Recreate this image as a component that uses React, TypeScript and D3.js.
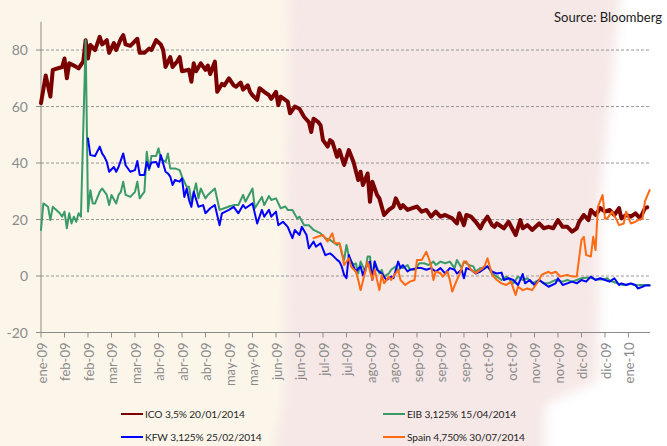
import React from "react";
import * as d3 from "d3";

// x: business-day index since 2 Jan 2009; tick label every 10 days
const tickLabels = [
  "ene-09", "feb-09", "feb-09", "mar-09", "mar-09", "abr-09", "abr-09", "abr-09",
  "may-09", "may-09", "jun-09", "jun-09", "jul-09", "jul-09", "ago-09", "ago-09",
  "sep-09", "sep-09", "sep-09", "oct-09", "oct-09", "nov-09", "nov-09", "dic-09",
  "dic-09", "ene-10",
];
const yTicks = [-20, 0, 20, 40, 60, 80];

const ico: [number, number][] = [
  [0, 61.2], [2, 71], [4, 63.5], [5, 73], [9, 74], [10, 77], [11, 70], [12, 75.3], [14, 74.5], [16, 73.5],
  [18, 76], [19, 83.5], [20, 77], [21, 81.8], [23, 80], [25, 84.7], [26, 82], [28, 83.5], [29, 79], [31, 82.5],
  [32, 80], [34, 84], [35, 85.3], [36, 82], [38, 81.5], [41, 84], [42, 79], [44, 79], [46, 80.5], [47, 80],
  [49, 83.5], [51, 82], [52, 80], [53, 74], [55, 77.5], [56, 74], [58, 76], [59, 77.5], [60, 72.5], [63, 73],
  [64, 68.8], [65, 75.3], [66, 72.5], [68, 75.3], [70, 73], [71, 74.5], [72, 71.5], [74, 75.9], [75, 65.2], [77, 68],
  [78, 67.5], [80, 70], [82, 67.5], [83, 67], [85, 68.5], [86, 66], [88, 67.5], [89, 65.2], [90, 64], [92, 62.4],
  [93, 66.5], [95, 65.2], [97, 64], [98, 62.7], [100, 65.2], [101, 60.5], [102, 63.5], [105, 61.7], [106, 57.6], [108, 60],
  [110, 59.2], [112, 56.3], [114, 54.5], [115, 51], [116, 55.7], [118, 54.5], [119, 53.3], [120, 48.1], [122, 45.8], [123, 48.1],
  [124, 47.5], [126, 42.2], [127, 44.6], [129, 39.3], [131, 44.6], [133, 40.4], [135, 34], [136, 36.9], [137, 32.2], [139, 36.3],
  [140, 26.3], [141, 33.4], [143, 28.7], [144, 27.5], [146, 21.6], [148, 23.4], [150, 24.6], [151, 27.5], [153, 24], [154, 25.1],
  [156, 23.4], [158, 24], [160, 24.6], [162, 22.8], [164, 23.4], [166, 21], [168, 22.8], [170, 21], [172, 21.6], [175, 20.4],
  [177, 18.6], [178, 22.2], [180, 18], [181, 21.6], [183, 21], [185, 19.2], [187, 16.9], [188, 18.6], [190, 21], [192, 18],
  [193, 17.4], [194, 18.6], [197, 16.9], [199, 19.2], [202, 14.5], [204, 19.8], [205, 16.9], [207, 18], [209, 16.3], [212, 18.6],
  [214, 16.9], [216, 17.4], [218, 16.9], [220, 19.8], [222, 17.4], [224, 17.4], [226, 15.7], [228, 16.9], [229, 19.2], [231, 21.6],
  [233, 19.8], [234, 23.4], [236, 21.6], [238, 24], [240, 22.8], [242, 23.4], [244, 21.6], [246, 24], [247, 20.4], [249, 21.6],
  [251, 21], [253, 22.2], [255, 20.4], [257, 24], [258, 24.3],
];

const eib: [number, number][] = [
  [0, 16.3], [1, 25.7], [3, 24.5], [4, 19.8], [5, 24.5], [8, 22.2], [9, 21], [10, 22.8], [11, 16.9], [12, 22.2],
  [13, 18.6], [14, 21], [15, 19.2], [16, 22.2], [17, 21], [19, 83.5], [20, 22.8], [21, 30.4], [22, 25.7], [23, 25.7],
  [25, 29.8], [26, 31], [28, 28.7], [29, 25.1], [30, 28.7], [32, 25.7], [33, 28.7], [34, 29.8], [35, 33.4], [36, 28.7],
  [38, 28], [40, 29.8], [41, 33.4], [42, 27.5], [43, 28.7], [44, 29.8], [45, 44], [46, 37.5], [47, 42.5], [49, 42.5],
  [50, 45.2], [51, 41.5], [53, 40.4], [54, 43.4], [55, 38.1], [57, 38.1], [59, 37.5], [60, 35.2], [62, 31.6], [63, 31.6],
  [64, 26.3], [66, 32.8], [67, 27.5], [68, 31], [70, 27.5], [71, 28.7], [74, 31], [76, 23.4], [78, 24], [80, 24.6],
  [82, 25.1], [84, 25.1], [86, 28.7], [87, 26.3], [90, 31], [91, 24], [94, 28], [95, 25.1], [97, 28.3], [98, 26.9],
  [100, 27.5], [102, 24], [104, 24.6], [105, 23.4], [107, 23.4], [109, 20.4], [110, 21], [112, 18], [114, 18], [116, 16.3],
  [119, 15.1], [121, 13.4], [123, 12.8], [126, 11], [127, 11.6], [128, 8], [129, 5.7], [130, 11], [131, 6.9], [133, 3.9],
  [134, 4.5], [135, 0.9], [136, 5.1], [138, 1.6], [139, 6.9], [140, 6.9], [141, -0.8], [142, 5.1], [144, 0.9], [145, 2.2],
  [146, -0.2], [148, 0.9], [149, 2.2], [151, 3.4], [152, 1.6], [153, 3.4], [154, 2.8], [156, 3.9], [157, 2.2], [159, 2.2],
  [161, 4.5], [163, 4.5], [165, 3.9], [167, 5.1], [168, 3.9], [170, 5.1], [172, 4.5], [174, 5.1], [176, 2.8], [177, 5.7],
  [179, 2.8], [180, 5.1], [182, 3.9], [184, 3.4], [185, 1.6], [187, 2.8], [190, 3.4], [192, 0.9], [194, -0.2], [196, -1.4],
  [198, -0.2], [201, -2.6], [203, -0.2], [205, -1.4], [207, -0.8], [209, -2.6], [212, -1.4], [214, -2.6], [216, -2.6], [219, -1.4],
  [222, -2], [224, -1.4], [226, -2], [228, -1.4], [230, -0.8], [232, -0.6], [234, -0.6], [236, -1.2], [239, -1.2], [241, -0.8],
  [242, -1.6], [244, -2.2], [246, -2.8], [248, -3.2], [251, -2.8], [253, -3.4], [255, -3.2], [257, -3.2], [259, -3.2],
];

const kfw: [number, number][] = [
  [20, 48.7], [21, 42.8], [23, 42.5], [25, 45.8], [26, 43.4], [27, 42.2], [28, 40.4], [29, 36.9], [31, 38.6], [32, 36.9],
  [33, 38.6], [35, 43.4], [36, 39.2], [38, 36.9], [40, 37.5], [41, 40.7], [42, 35.8], [44, 35.8], [45, 40.4], [46, 38],
  [47, 40.2], [49, 40.4], [50, 38.6], [51, 42.8], [53, 36.9], [54, 36.3], [55, 35.2], [56, 32.2], [57, 34], [59, 33.4],
  [60, 34.6], [61, 28], [62, 31], [63, 26.9], [64, 24.5], [65, 29.8], [67, 24.5], [69, 25.1], [70, 22.2], [72, 24],
  [74, 25.1], [76, 18], [77, 22.2], [80, 23.4], [82, 24.5], [84, 22.2], [86, 25.1], [87, 24], [90, 25.7], [92, 18.6],
  [94, 23.4], [95, 21], [97, 23.4], [98, 21], [100, 22.8], [101, 18], [103, 19.2], [105, 17.4], [107, 13.4], [108, 16.3],
  [110, 14.5], [111, 17.4], [113, 14.5], [114, 9.8], [116, 12.2], [117, 10.4], [119, 11.6], [121, 7.4], [123, 8], [124, 7.4],
  [126, 5.7], [127, 5.1], [128, 3.3], [129, 0.4], [130, -0.8], [131, 7.4], [132, 5.1], [134, 1.6], [136, 3.4], [137, 0.3],
  [139, 4.5], [140, 5.1], [141, -1.4], [142, 5.1], [143, 2.2], [145, 0.9], [147, -1.4], [149, -0.2], [150, -0.8], [152, 5.1],
  [153, 2.8], [154, 3.9], [156, 1.6], [157, 2.2], [160, 2.8], [162, 2.8], [164, 2.2], [166, 2.8], [168, 1.6], [170, 2.8],
  [172, 0.9], [174, 2.8], [176, 2.2], [177, 0.9], [179, 2.2], [180, -0.8], [181, 2.8], [183, 2.2], [185, 0.9], [187, 1.6],
  [190, 3.4], [192, 1.5], [194, 0.9], [196, 1.2], [197, -1.4], [199, -0.8], [201, -1.4], [203, -3.2], [205, 0.7], [206, -2.6],
  [208, -1.4], [210, -3.2], [212, -1.4], [214, -2.6], [216, -3.8], [219, -2.6], [220, -0.8], [222, -3.2], [224, -2.6], [226, -2],
  [228, -2.6], [230, -1.4], [232, -2], [234, -0.2], [236, -1.4], [238, -0.8], [240, -1.4], [242, -2], [244, -0.8], [246, -3.2],
  [247, -2.6], [249, -3.2], [251, -2.6], [253, -3.2], [254, -4.4], [256, -3.8], [257, -3.4], [259, -3.4],
];

const spain: [number, number][] = [
  [116, 13.4], [118, 14], [120, 14.5], [122, 12.2], [124, 15.1], [125, 11.6], [127, 11.6], [128, 8.6], [129, 3.9], [131, 6.3],
  [132, 3.3], [134, 1.6], [135, -1.4], [136, -5], [138, 1.6], [139, 5.1], [141, -1.4], [142, 2.2], [144, -5], [145, 0.4],
  [146, -2.6], [148, -0.2], [149, -1.4], [151, 1], [152, 2.2], [153, -1.4], [155, -3.2], [157, -2], [159, -1.4], [160, 5.7],
  [162, 5.7], [164, 8.6], [166, 3.9], [167, -1.4], [168, 1.6], [170, 1], [171, -0.2], [173, 1.6], [174, -1.4], [175, -5.5],
  [177, -1.4], [178, 0.4], [180, 5.1], [181, 5.1], [183, 2.2], [185, 1], [188, 2.8], [189, 3.9], [190, 6.3], [192, 0.4],
  [194, -1.4], [196, -2.6], [198, -3.2], [200, -2], [202, -6.7], [203, -3.8], [205, -5], [207, -4.4], [209, -5], [210, -3.8],
  [212, -1.4], [213, 0.4], [216, 1.5], [217, 0.9], [219, 1.5], [221, -0.2], [224, 0.4], [226, -0.2], [228, -0.2], [230, 12.7],
  [231, 13.9], [232, 7.4], [234, 6.9], [235, 13.9], [236, 9.2], [237, 24.5], [239, 28.7], [240, 20.4], [241, 20.4], [243, 22.8],
  [245, 19.8], [246, 18], [248, 18.6], [249, 22.8], [251, 18.6], [253, 19.2], [254, 19.8], [256, 20.4], [257, 26.3], [259, 30.4],
];

const seriesNames = ["ICO 3,5% 20/01/2014", "EIB 3,125% 15/04/2014", "KFW 3,125% 25/02/2014", "Spain 4,750% 30/07/2014"];
const seriesColors = ["#7a0000", "#3a9a68", "#0000ff", "#ff6a13"];
const seriesWidths = [4, 2, 2, 2];
const seriesData = [ico, eib, kfw, spain];

const W = 667;
const H = 446;
const FONT = "Lato, 'Open Sans', sans-serif";

export default function App() {
  const x = d3.scaleLinear().domain([0, 259]).range([41, 649.6]);
  const y = d3.scaleLinear().domain([-20, 90]).range([332.5, 21.8]);
  const line = d3
    .line<[number, number]>()
    .x((d) => x(d[0]))
    .y((d) => y(d[1]))
    .curve(d3.curveLinear);

  const tickIdx = tickLabels.map((_, i) => i * 10);
  const legendPos = [
    [121, 414],
    [383, 414],
    [121, 437],
    [383, 437],
  ];

  return (
    <div>
      <style>{`body{margin:0}`}</style>
      <svg width={W} height={H} style={{ display: "block" }}>
        <defs>
          <filter id="blur" x="-20%" y="-20%" width="140%" height="140%">
            <feGaussianBlur stdDeviation="6" />
          </filter>
        </defs>
        <rect x={0} y={0} width={W} height={H} fill="#ffffff" />
        <rect x={0} y={0} width={330} height={H} fill="#fcf6ea" />
        <path
          d="M290,-20 L622,-20 L600,200 L598,380 L545,405 L545,470 L270,470 L284,400 Z"
          fill="#f5e8e6"
          filter="url(#blur)"
        />

        {/* gridlines */}
        {yTicks.map((t) =>
          t === -20 ? null : (
            <line
              key={"g" + t}
              x1={x(0)}
              x2={650}
              y1={y(t)}
              y2={y(t)}
              stroke="#8c8c8c"
              strokeWidth={0.9}
              strokeDasharray="3,2"
            />
          )
        )}
        {/* y axis */}
        <line x1={41} x2={41} y1={y(90)} y2={y(-20)} stroke="#8c8c8c" strokeWidth={1} />
        {yTicks.map((t) => (
          <g key={"y" + t}>
            <line x1={36} x2={41} y1={y(t)} y2={y(t)} stroke="#8c8c8c" strokeWidth={1} />
            <text
              x={28}
              y={y(t)}
              dy="0.36em"
              textAnchor="end"
              fontFamily={FONT}
              fontSize={14}
              fill="#8a8a8a"
            >
              {t}
            </text>
          </g>
        ))}
        {/* x axis */}
        <line x1={41} x2={650} y1={y(-20)} y2={y(-20)} stroke="#8c8c8c" strokeWidth={1} />
        {tickIdx.map((d, i) => (
          <g key={"x" + i}>
            <line x1={x(d)} x2={x(d)} y1={y(-20)} y2={y(-20) + 5} stroke="#8c8c8c" strokeWidth={1} />
            <text
              transform={`translate(${x(d) + 1},${y(-20) + 10}) rotate(-90)`}
              dy="0.36em"
              textAnchor="end"
              fontFamily={FONT}
              fontSize={13}
              fill="#8a8a8a"
            >
              {tickLabels[i]}
            </text>
          </g>
        ))}

        {/* series */}
        {seriesData.map((s, i) => (
          <path
            key={"s" + i}
            d={line(s) || ""}
            fill="none"
            stroke={seriesColors[i]}
            strokeWidth={seriesWidths[i]}
            strokeLinejoin="round"
            strokeLinecap="round"
          />
        ))}

        {/* legend */}
        {seriesNames.map((n, i) => (
          <g key={"l" + i}>
            <line
              x1={legendPos[i][0]}
              x2={legendPos[i][0] + 22}
              y1={legendPos[i][1]}
              y2={legendPos[i][1]}
              stroke={seriesColors[i]}
              strokeWidth={2}
            />
            <text
              x={legendPos[i][0] + 24}
              y={legendPos[i][1]}
              dy="0.35em"
              fontFamily={FONT}
              fontSize={10.2}
              letterSpacing={-0.1}
              fill="#262626"
            >
              {n}
            </text>
          </g>
        ))}

        <text x={662} y={22} textAnchor="end" fontFamily={FONT} fontSize={13} fill="#1a1a1a">
          Source: Bloomberg
        </text>
      </svg>
    </div>
  );
}
